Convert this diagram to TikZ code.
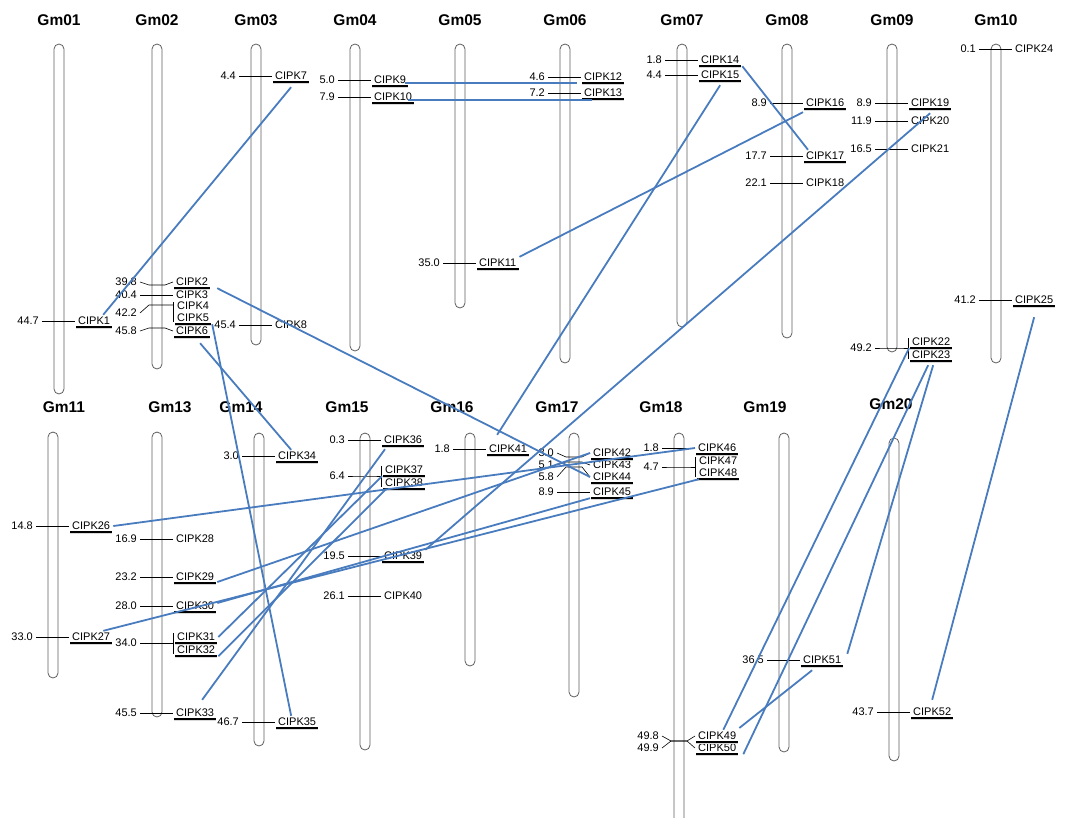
\documentclass[tikz,border=0pt]{standalone}
\usepackage{fontspec}
\setmainfont{Liberation Sans}
\usepackage{tikz}
\definecolor{LinkBlue}{RGB}{72,124,190}
\definecolor{ChromGray}{RGB}{95,95,95}
\tikzset{
  chrom/.style={draw=ChromGray, line width=0.8pt, fill=white, rounded corners=5pt},
  title/.style={font=\fontsize{15.5}{18}\selectfont\bfseries},
  lab/.style={inner xsep=3pt, inner ysep=1pt, text height=8pt, text depth=2pt, font=\fontsize{11}{13}\selectfont},
  num/.style={lab, anchor=east},
  gene/.style={lab, anchor=west},
  tick/.style={line width=0.6pt},
  bar/.style={line width=2pt},
  barshade/.style={line width=1.3pt, draw=black!15},
  link/.style={draw=LinkBlue, line width=1.8pt}
}
\begin{document}
\begin{tikzpicture}[x=1pt,y=-1pt]
\useasboundingbox (0,0) rectangle (1067,817);
\clip (0,0) rectangle (1067,817);

% chromosomes
\foreach \nm/\x/\b in {01/59/394, 02/157/369, 03/256/345, 04/355/351, 05/460/308,
    06/565/363, 07/682/327, 08/787/338, 09/892/352, 10/996/363} {
  \draw[chrom] ({\x-5},44) rectangle ({\x+5},\b);
  \node[title] (gm\nm) at (\x,20) {Gm\nm};
}
\foreach \nm/\x/\tx/\t/\b/\ty in {11/53/64/432/678/407, 13/157/170/432/717/407,
    14/259/241/433/746/407, 15/365/347/433/750/407, 16/470/452/433/666/407,
    17/574/557/433/697/407, 18/679/661/433/850/407, 19/784/765/433/752/407,
    20/894/891/438/761/404} {
  \draw[chrom] ({\x-5},\t) rectangle ({\x+5},\b);
  \node[title] (gm\nm) at (\tx,\ty) {Gm\nm};
}

% single markers
\foreach \x/\y/\v/\i in {59/321/44.7/1, 157/295/40.4/3, 256/76/4.4/7, 256/325/45.4/8,
    355/80/5.0/9, 355/97/7.9/10, 460/263/35.0/11, 565/77/4.6/12, 565/93/7.2/13,
    682/60/1.8/14, 682/75/4.4/15, 787/103/8.9/16, 787/156/17.7/17, 787/183/22.1/18,
    892/103/8.9/19, 892/121/11.9/20, 892/149/16.5/21, 996/49/0.1/24, 996/300/41.2/25,
    53/526/14.8/26, 53/637/33.0/27, 157/539/16.9/28, 157/577/23.2/29, 157/606/28.0/30,
    157/713/45.5/33, 259/456/3.0/34, 259/722/46.7/35, 365/440/0.3/36, 365/556/19.5/39,
    365/596/26.1/40, 470/449/1.8/41, 574/492/8.9/45, 679/448/1.8/46, 784/660/36.5/51,
    894/712/43.7/52} {
  \node[num] (n\i) at ({\x-17},\y) {\v};
  \node[gene] (k\i) at ({\x+16},\y) {CIPK\i};
  \draw[tick] (n\i.east) -- (k\i.west);
}
% close markers, bent ticks
\foreach \x/\yn/\yc/\v/\i in {157/282/285/39.8/2, 157/331/328/45.8/6, 574/453/457/3.0/42,
    574/465/462/5.1/43, 574/477/467/5.8/44, 679/736/741/49.8/49, 679/748/741/49.9/50} {
  \node[num] (n\i) at ({\x-17},\yn) {\v};
  \node[gene] (k\i) at ({\x+16},\yn) {CIPK\i};
  \draw[tick] (n\i.east) -- ({\x-8},\yc) -- ({\x+8},\yc) -- (k\i.west);
}
% two genes on one position
\foreach \x/\yn/\yc/\v/\i/\ya/\j/\yb in {157/313/305/42.2/4/306/5/318,
    892/348/348/49.2/22/342/23/355, 157/643/643/34.0/31/637/32/650,
    365/476/476/6.4/37/470/38/483, 679/467/467/4.7/47/461/48/473} {
  \node[num] (n\i) at ({\x-17},\yn) {\v};
  \node[gene] (k\i) at ({\x+17},\ya) {CIPK\i};
  \node[gene] (k\j) at ({\x+17},\yb) {CIPK\j};
  \draw[tick] ([shift={(-1,-4)}]k\i.west) -- ([shift={(-1,4)}]k\j.west);
  \draw[tick] (n\i.east) -- ({\x-8},\yc) -- ({\x+8},\yc) -- ({\x+16},\yc);
}

% underlines
\foreach \i in {1,2,5,6,7,9,10,11,12,13,14,15,16,17,19,22,23,25,26,27,29,30,31,32,33,
    34,35,36,37,38,39,41,42,44,45,46,48,49,50,51,52} {
  \draw[barshade] ([shift={(1,1.6)}]k\i.south west) -- ([shift={(-1,1.6)}]k\i.south east);
  \draw[bar] ([shift={(1,-0.6)}]k\i.south west) -- ([shift={(-1,-0.6)}]k\i.south east);
}

% links
\draw[link] ([shift={(0,5)}]k7.south) -- ([shift={(-10,0)}]k1.north east);
\draw[link] ([shift={(-4,3)}]k9.east) -- ([shift={(-4,6)}]k12.west);
\draw[link] ([shift={(-7,3)}]k10.east) -- ([shift={(11,7)}]k13.west);
\draw[link] (k14.south east) -- ([shift={(5,0)}]k17.north west);
\draw[link] ([shift={(0,4)}]k15.south) -- ([shift={(-11,-8)}]k41.north);
\draw[link] ([shift={(0,3)}]k16.south west) -- (k11.north east);
\draw[link] ([shift={(0,4)}]k19.south) -- (k39.north east);
\draw[link] ([shift={(6,0)}]k2.south east) -- (k44.west);
\draw[link] (k5.south east) -- ([shift={(-6,0)}]k35.north);
\draw[link] ([shift={(8,6)}]k6.south) -- ([shift={(-6,0)}]k34.north);
\draw[link] (k26.east) -- (k46.west);
\draw[link] ([shift={(0,5)}]k29.east) -- (k42.west);
\draw[link] ([shift={(-10,0)}]k27.north east) -- ([shift={(3,0)}]k48.south west);
\draw[link] ([shift={(0,-3)}]k30.east) -- (k45.south west);
\draw[link] ([shift={(7,-7)}]k33.north) -- ([shift={(4,3)}]k36.south west);
\draw[link] (k31.east) -- (k37.south west);
\draw[link] (k32.south east) -- ([shift={(4,0)}]k38.south west);
\draw[link] (k22.south west) -- ([shift={(-16,0)}]k49.north east);
\draw[link] ([shift={(-3,4)}]k23.south) -- ([shift={(4,0)}]k50.south east);
\draw[link] ([shift={(2,4)}]k23.south) -- ([shift={(3,0)}]k51.north east);
\draw[link] ([shift={(0,-8)}]k49.east) -- ([shift={(-10,4)}]k51.south);
\draw[link] ([shift={(0,11)}]k25.south) -- ([shift={(0,-6)}]k52.north);
\end{tikzpicture}
\end{document}
